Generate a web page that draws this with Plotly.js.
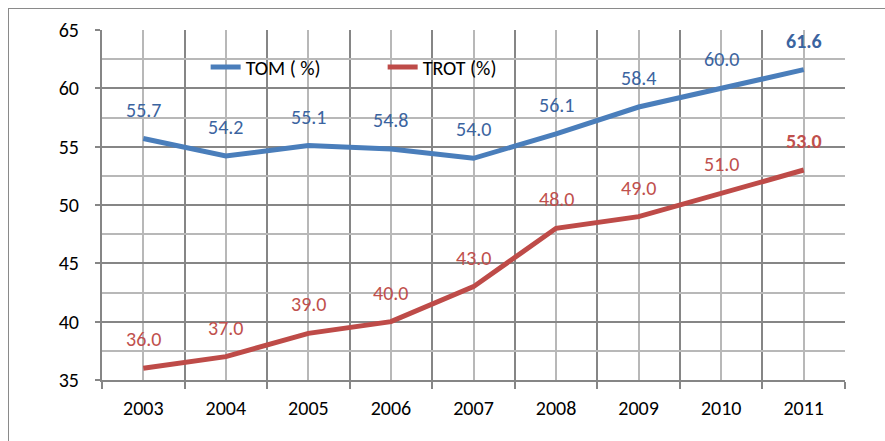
<!DOCTYPE html>
<html>
<head>
<meta charset="utf-8">
<script src="https://cdn.plot.ly/plotly-3.0.1.min.js"></script>
<style>
  html, body { margin: 0; padding: 0; background: #ffffff; }
  #wrap { position: relative; width: 885px; height: 441px; overflow: hidden; }
  #chart { position: absolute; left: 0; top: 0; width: 885px; height: 441px; }
  #frame { position: absolute; left: 8px; top: 8px; width: 900px; height: 500px;
           border: 1px solid #8a8a8a; pointer-events: none; }
</style>
</head>
<body>
<div id="wrap">
  <div id="frame"></div>
  <div id="chart"></div>
</div>
<script>
// ---- data ----
const years = [2003, 2004, 2005, 2006, 2007, 2008, 2009, 2010, 2011];
const yearLabels = ['2003', '2004', '2005', '2006', '2007', '2008', '2009', '2010', '2011'];
const tom = [55.7, 54.2, 55.1, 54.8, 54.0, 56.1, 58.4, 60.0, 61.6];
const trot = [36.0, 37.0, 39.0, 40.0, 43.0, 48.0, 49.0, 51.0, 53.0];
const seriesNames = ['TOM ( %)', 'TROT (%)'];

const FONT = 'Carlito, Lato, "Liberation Sans", sans-serif';
const FS = 20;
const BLUE = '#4A7EBB';
const RED = '#BE4B48';
const BLUE_TXT = '#3B64A0';
const RED_TXT = '#C0504D';
const MAJOR = '#868686';
const MINOR = '#b8b8b8';

const boundaries = years.map(y => y - 0.5).concat([years[years.length - 1] + 0.5]);

const traces = [
  { x: years, y: tom, name: seriesNames[0], type: 'scatter', mode: 'lines',
    line: { color: BLUE, width: 5 }, hoverinfo: 'skip' },
  { x: years, y: trot, name: seriesNames[1], type: 'scatter', mode: 'lines',
    line: { color: RED, width: 5 }, hoverinfo: 'skip' }
];

function labels(vals, color) {
  return vals.map((v, i) => ({
    x: years[i], y: v, xref: 'x', yref: 'y',
    text: (i === vals.length - 1) ? '<b>' + v.toFixed(1) + '</b>' : v.toFixed(1),
    showarrow: false, yshift: 29,
    font: { family: FONT, size: FS, color: color }
  }));
}

const xr = [years[0] - 0.5, years[years.length - 1] + 0.5];

const layout = {
  width: 885, height: 441,
  margin: { l: 102, r: 40, t: 30, b: 61 },
  paper_bgcolor: 'rgba(0,0,0,0)',
  plot_bgcolor: '#ffffff',
  font: { family: FONT, size: FS, color: '#000000' },
  showlegend: true,
  legend: {
    orientation: 'h', x: 0.1395, xanchor: 'left', y: 0.95, yanchor: 'top',
    bgcolor: 'rgba(0,0,0,0)', font: { family: FONT, size: FS, color: '#000000' },
    entrywidth: 132
  },
  shapes: [
    { type: 'rect', xref: 'paper', yref: 'paper', x0: 0.0646, x1: 0.603, y0: 0.8286, y1: 0.963,
      fillcolor: '#ffffff', line: { width: 0 }, layer: 'between' }
  ],
  xaxis: {
    type: 'linear', range: xr, tickmode: 'array', tickvals: years, ticktext: yearLabels,
    showgrid: true, gridcolor: MINOR, gridwidth: 2,
    ticks: '', ticklabelstandoff: 9,
    showline: true, linecolor: MAJOR, linewidth: 2,
    zeroline: false, fixedrange: true,
    tickfont: { family: FONT, size: FS, color: '#000000' },
    minor: { tickmode: 'array', tickvals: boundaries, showgrid: true, gridcolor: MAJOR, gridwidth: 2,
             ticks: 'outside', ticklen: 7, tickwidth: 2, tickcolor: MAJOR }
  },
  yaxis: {
    range: [35, 65], tickmode: 'linear', dtick: 5, tick0: 35,
    showgrid: true, gridcolor: MAJOR, gridwidth: 2,
    ticks: 'outside', ticklen: 5, tickwidth: 2, tickcolor: MAJOR,
    showline: true, linecolor: MAJOR, linewidth: 2,
    zeroline: false, fixedrange: true, ticklabelstandoff: 12,
    tickfont: { family: FONT, size: FS, color: '#000000' },
    minor: { tickmode: 'linear', tick0: 35, dtick: 2.5, showgrid: true, gridcolor: MINOR, gridwidth: 2, ticks: '' }
  },
  annotations: labels(tom, BLUE_TXT).concat(labels(trot, RED_TXT))
};

Plotly.newPlot('chart', traces, layout, { displayModeBar: false, staticPlot: true });
</script>
</body>
</html>
